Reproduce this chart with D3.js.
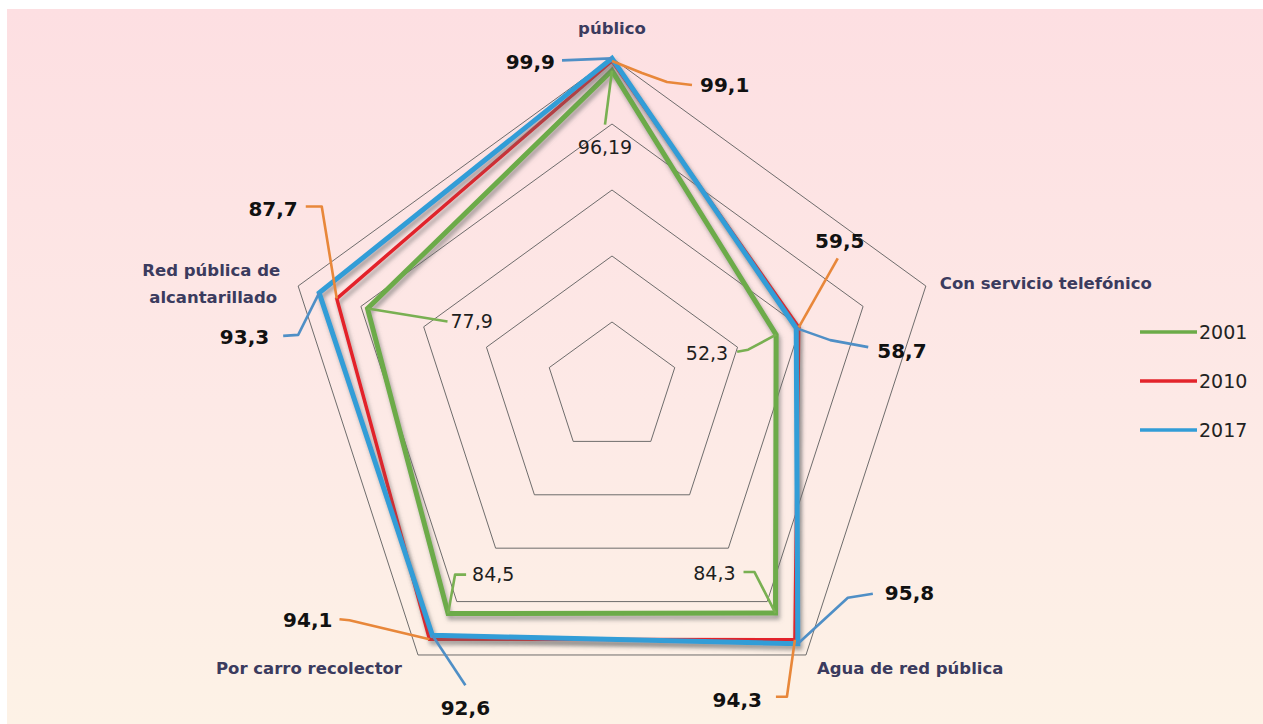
<!DOCTYPE html>
<html>
<head>
<meta charset="utf-8">
<script src="https://cdn.jsdelivr.net/npm/d3@7"></script>
<style>
  body { margin: 0; background: #fff; }
  text { font-family: "DejaVu Sans", sans-serif; }
</style>
</head>
<body>
<div id="chart"></div>
<script>
// --- data ---
const axes = ["público", "Con servicio telefónico", "Agua de red pública", "Por carro recolector", "Red pública de alcantarillado"];
const years = ["2001", "2010", "2017"];
const v2001 = [96.19, 52.3, 84.3, 84.5, 77.9];
const v2010 = [99.1, 59.5, 94.3, 94.1, 87.7];
const v2017 = [99.9, 58.7, 95.8, 92.6, 93.3];
const valueLabels2001 = ["96,19", "52,3", "84,3", "84,5", "77,9"];
const valueLabels2010 = ["99,1", "59,5", "94,3", "94,1", "87,7"];
const valueLabels2017 = ["99,9", "58,7", "95,8", "92,6", "93,3"];
const rings = [20, 40, 60, 80, 100];

const width = 1263, height = 724;
const cx = 612, cy = 388, R = 330;

const series = [
  { year: years[0], values: v2001, labels: valueLabels2001, color: "#6cab48", lead: "#79b052", w: 5 },
  { year: years[1], values: v2010, labels: valueLabels2010, color: "#e3242b", lead: "#e8873a", w: 3.5 },
  { year: years[2], values: v2017, labels: valueLabels2017, color: "#329dd7", lead: "#4f8fc6", w: 5 }
];

const r = d3.scaleLinear().domain([0, 100]).range([0, R]);
const angle = i => -Math.PI / 2 + i * 2 * Math.PI / axes.length;
const pt = (i, v) => [cx + r(v) * Math.cos(angle(i)), cy + r(v) * Math.sin(angle(i))];

const svg = d3.select("#chart").append("svg")
  .attr("width", width).attr("height", height);

const defs = svg.append("defs");
const grad = defs.append("linearGradient").attr("id", "bg").attr("x1", 0).attr("y1", 0).attr("x2", 0).attr("y2", 1);
grad.append("stop").attr("offset", "0%").attr("stop-color", "#fddfe2");
grad.append("stop").attr("offset", "55%").attr("stop-color", "#fde9e6");
grad.append("stop").attr("offset", "100%").attr("stop-color", "#fdf2e6");

const f = defs.append("filter").attr("id", "shadow").attr("x", "-10%").attr("y", "-10%").attr("width", "130%").attr("height", "130%");
f.append("feDropShadow").attr("dx", 2).attr("dy", 4).attr("stdDeviation", 2)
  .attr("flood-color", "#6a6a6a").attr("flood-opacity", 0.6);

svg.append("rect").attr("x", 7).attr("y", 9).attr("width", width - 7).attr("height", height - 9)
  .attr("fill", "url(#bg)");

// grid pentagons
const ringLine = d3.line();
svg.append("g").selectAll("path").data(rings).join("path")
  .attr("d", v => ringLine(axes.map((a, i) => pt(i, v))) + "Z")
  .attr("fill", "none").attr("stroke", "#5e5e5e").attr("stroke-width", 0.9);

// series polygons
svg.append("g").selectAll("path").data(series).join("path")
  .attr("d", s => ringLine(s.values.map((v, i) => pt(i, v))) + "Z")
  .attr("fill", "none")
  .attr("stroke", s => s.color)
  .attr("stroke-width", s => s.w)
  .attr("stroke-linejoin", "miter")
  .attr("filter", "url(#shadow)");

// value label layout: series index, axis index, leader offsets, text offset, anchor
const labelLayout = [
  { s: 2, i: 0, pts: [[-50, 2]], t: [-57, 3], a: "end" },
  { s: 1, i: 0, pts: [[30, 12], [55, 21], [80, 24]], t: [88, 24], a: "start" },
  { s: 0, i: 0, pts: [[-7, 54]], t: [-7, 77], a: "middle" },
  { s: 1, i: 1, pts: [[39, -69]], t: [41, -87], a: "middle" },
  { s: 2, i: 1, pts: [[34, 12], [72, 19]], t: [81, 23], a: "start" },
  { s: 0, i: 1, pts: [[-28, 15], [-39, 17]], t: [-48, 18], a: "end" },
  { s: 0, i: 2, pts: [[-21, -41], [-32, -41]], t: [-40, -40], a: "end" },
  { s: 2, i: 2, pts: [[50, -46], [75, -50]], t: [87, -51], a: "start" },
  { s: 1, i: 2, pts: [[-8, 57], [-19, 57]], t: [-33, 60], a: "end" },
  { s: 0, i: 3, pts: [[7, -39], [18, -39]], t: [24, -39], a: "start" },
  { s: 1, i: 3, pts: [[-80, -19], [-90, -20]], t: [-97, -19], a: "end" },
  { s: 2, i: 3, pts: [[33, 50]], t: [33, 73], a: "middle" },
  { s: 0, i: 4, pts: [[80, 13]], t: [83, 13], a: "start" },
  { s: 1, i: 4, pts: [[-15, -92], [-31, -92]], t: [-39, -90], a: "end" },
  { s: 2, i: 4, pts: [[-21, 42], [-36, 43]], t: [-50, 44], a: "end" }
];

const lab = svg.append("g");
labelLayout.forEach(d => {
  const s = series[d.s];
  const [x0, y0] = pt(d.i, s.values[d.i]);
  const path = [[x0, y0]].concat(d.pts.map(p => [x0 + p[0], y0 + p[1]]));
  lab.append("path").attr("d", d3.line()(path))
    .attr("fill", "none").attr("stroke", s.lead).attr("stroke-width", 2.6)
    .attr("stroke-linejoin", "round");
  lab.append("text")
    .attr("x", x0 + d.t[0]).attr("y", y0 + d.t[1]).attr("dy", "0.36em")
    .attr("text-anchor", d.a)
    .attr("font-size", d.s === 0 ? 19 : 20)
    .attr("font-weight", d.s === 0 ? "normal" : "bold")
    .attr("fill", d.s === 0 ? "#1e1e1e" : "#111")
    .text(s.labels[d.i]);
});

// axis labels
const axisLayout = [
  { t: [0, -30], a: "middle", lines: ["público"] },
  { t: [14, -3], a: "start", lines: ["Con servicio telefónico"] },
  { t: [11, 13], a: "start", lines: ["Agua de red pública"] },
  { t: [-16, 13], a: "end", lines: ["Por carro recolector"] },
  { t: [-18, -16], a: "end", lines: ["Red pública de", "alcantarillado"] }
];
axisLayout.forEach((d, i) => {
  const [x0, y0] = pt(i, 100);
  const txt = svg.append("text")
    .attr("text-anchor", d.a)
    .attr("font-size", 16.5).attr("font-weight", "bold").attr("fill", "#3b3b5e");
  d.lines.forEach((ln, k) => {
    txt.append("tspan").attr("x", x0 + d.t[0] - k * 3).attr("y", y0 + d.t[1] + k * 27)
      .attr("dy", "0.36em").text(ln);
  });
});

// legend
const lg = svg.append("g").selectAll("g").data(series).join("g")
  .attr("transform", (s, k) => `translate(1140,${332 + k * 49})`);
lg.append("line").attr("x1", 0).attr("x2", 57).attr("y1", 0).attr("y2", 0)
  .attr("stroke", s => s.color).attr("stroke-width", 3.5);
lg.append("text").attr("x", 59).attr("dy", "0.36em")
  .attr("font-size", 19).attr("fill", "#222").text(s => s.year);
</script>
</body>
</html>
